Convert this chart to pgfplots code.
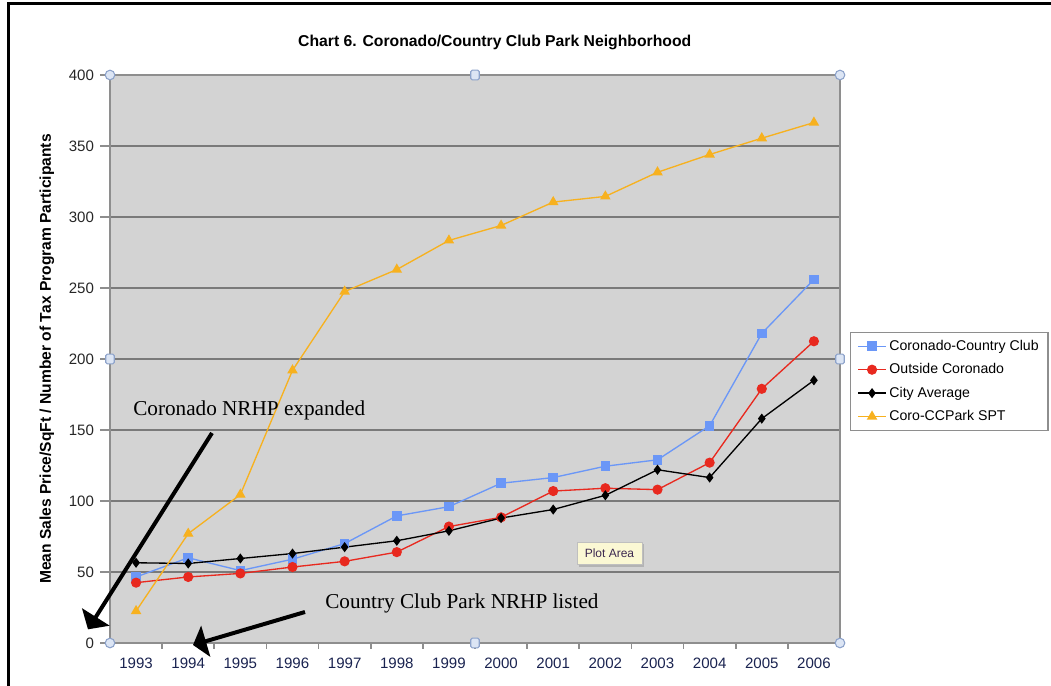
\documentclass[border=0pt]{standalone}
\usepackage{fontspec}
\setmainfont{Liberation Sans}
\newfontfamily\timesf{Liberation Serif}
\usepackage{pgfplots}
\pgfplotsset{compat=1.18}
\usetikzlibrary{arrows.meta}
\definecolor{ccblue}{HTML}{6B97F7}
\definecolor{ccred}{HTML}{E8291F}
\definecolor{ccorange}{HTML}{F7B11F}
\definecolor{plotbg}{HTML}{D3D3D3}
\definecolor{gridgray}{HTML}{7A7A7A}
\definecolor{axisgray}{HTML}{8E8E8E}
\definecolor{handlefill}{HTML}{DCE5F4}
\definecolor{handledraw}{HTML}{8CA2CA}
\definecolor{tipfill}{HTML}{FBF8D4}
\definecolor{ticknavy}{HTML}{1A2350}
\begin{document}
\begin{tikzpicture}
\path[use as bounding box] (0,0) rectangle (788.25pt,514.5pt);
\begin{axis}[
  at={(82.5pt,32.25pt)}, anchor=south west,
  scale only axis, width=547.5pt, height=426pt,
  xmin=1992.5, xmax=2006.5, ymin=0, ymax=400,
  clip=false,
  axis background/.style={fill=plotbg},
  axis line style={draw=axisgray, line width=1.4pt},
  xtick={1993,1994,1995,1996,1997,1998,1999,2000,2001,2002,2003,2004,2005,2006},
  xticklabels={1993,1994,1995,1996,1997,1998,1999,2000,2001,2002,2003,2004,2005,2006},
  minor xtick={1993.5,1994.5,1995.5,1996.5,1997.5,1998.5,1999.5,2000.5,2001.5,2002.5,2003.5,2004.5,2005.5},
  major x tick style={draw=none},
  ytick={0,50,...,400},
  ymajorgrids,
  grid style={draw=gridgray, line width=1.6pt},
  tick align=outside, xtick pos=bottom, ytick pos=left,
  major tick length=7.5pt, minor tick length=4.5pt,
  tick style={draw=axisgray, line width=1.2pt},
  /pgf/number format/assume math mode=true,
  tick label style={font=\fontsize{11.3pt}{12pt}\selectfont},
  xticklabel style={text=ticknavy},
  yticklabel style={xshift=-1pt, text=black!85},
  ylabel={\bfseries Mean Sales Price/SqFt / Number of Tax Program Participants},
  ylabel style={at={(axis description cs:-0.0863,0.5)}, anchor=center, font=\fontsize{11.7pt}{13pt}\selectfont},
  title={\bfseries Chart 6. Coronado/Country Club Park Neighborhood},
  title style={at={(axis description cs:0.527,1.044)}, anchor=center, yshift=0pt, font=\fontsize{11.8pt}{13pt}\selectfont},
  legend style={at={(1.0137,0.5475)}, anchor=north west, draw=axisgray, line width=1pt, fill=white,
    font=\fontsize{10.6pt}{12pt}\selectfont, row sep=4.4pt, inner xsep=5pt, inner ysep=3.6pt},
  legend image code/.code={\draw[mark repeat=2, mark phase=2] plot coordinates {(0cm,0cm) (0.37cm,0cm) (0.74cm,0cm)};},
  legend cell align=left,
]
\addplot[color=ccblue, line width=1pt, mark=square*, mark size=3.1pt, mark options={fill=ccblue, draw=ccblue}]
 coordinates {(1993,46.5)(1994,60)(1995,51)(1996,59)(1997,70)(1998,89.5)(1999,96)(2000,112.5)(2001,116.5)(2002,124.5)(2003,129)(2004,153)(2005,218)(2006,256)};
\addlegendentry{Coronado-Country Club}
\addplot[color=ccred, line width=1pt, mark=*, mark size=3.3pt, mark options={fill=ccred, draw=ccred}]
 coordinates {(1993,42.5)(1994,46.5)(1995,49)(1996,53.5)(1997,57.5)(1998,64)(1999,82)(2000,88.5)(2001,107)(2002,109)(2003,108)(2004,127)(2005,179)(2006,212.5)};
\addlegendentry{Outside Coronado}
\addplot[color=black, line width=1pt, mark=diamond*, mark size=3pt, mark options={fill=black, draw=black}]
 coordinates {(1993,56.5)(1994,56)(1995,59.5)(1996,63)(1997,67.5)(1998,72)(1999,79)(2000,88)(2001,94)(2002,104)(2003,122)(2004,116.5)(2005,158)(2006,185)};
\addlegendentry{City Average}
\addplot[color=ccorange, line width=1pt, mark=triangle*, mark size=3.6pt, mark options={fill=ccorange, draw=ccorange}]
 coordinates {(1993,22.5)(1994,77)(1995,104.5)(1996,192)(1997,247.5)(1998,263)(1999,283.5)(2000,294)(2001,310.5)(2002,314.5)(2003,331.5)(2004,344)(2005,355.5)(2006,366.5)};
\addlegendentry{Coro-CCPark SPT}
\end{axis}
% selection handles
\foreach \p in {(82.5pt,32.25pt),(630pt,32.25pt),(82.5pt,458.25pt),(630pt,458.25pt)}
  \draw[handledraw, fill=handlefill, line width=0.8pt] \p circle (3.6pt);
\foreach \p in {(356.25pt,32.25pt),(356.25pt,458.25pt),(82.5pt,245.25pt),(630pt,245.25pt)}
  \draw[handledraw, fill=handlefill, line width=0.8pt, rounded corners=1pt] \p ++(-3.2pt,-3.6pt) rectangle ++(6.4pt,7.2pt);
% tooltip
\fill[black, opacity=0.15] (434.25pt,89pt) rectangle (483pt,106.5pt);
\draw[black!25, fill=tipfill, line width=0.5pt] (432.75pt,91pt) rectangle (481.5pt,108pt);
\node[font=\fontsize{9pt}{10pt}\selectfont, text={rgb,255:red,60;green,40;blue,80}] at (457.1pt,99.5pt) {Plot Area};
% annotations
\node[anchor=west, inner sep=0pt, font=\timesf\fontsize{15.9pt}{18pt}\selectfont] at (99.75pt,207pt) {Coronado NRHP expanded};
\node[anchor=west, inner sep=0pt, font=\timesf\fontsize{15.9pt}{18pt}\selectfont] at (243.75pt,62.25pt) {Country Club Park NRHP listed};
\draw[black, line width=3pt, -{Triangle[width=24pt,length=11pt]}] (159pt,189.75pt) -- (66pt,42.5pt);
\draw[black, line width=3pt, -{Triangle[width=24pt,length=10pt]}] (228.75pt,55.5pt) -- (144.75pt,30.75pt);
% page frame
\draw[black, line width=2.25pt] (6pt,0pt) -- (6pt,511.5pt) -- (788.25pt,511.5pt);
\end{tikzpicture}
\end{document}
